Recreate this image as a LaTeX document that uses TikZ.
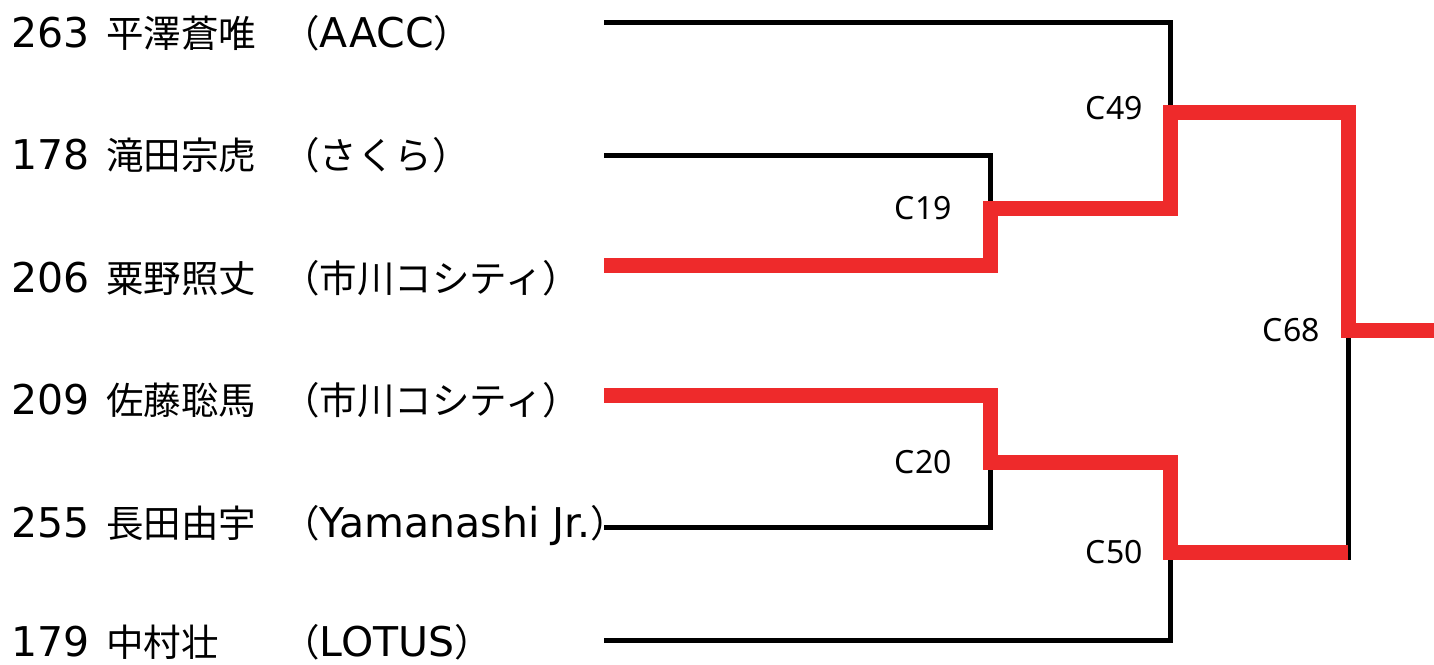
\documentclass[tikz,border=0pt]{standalone}
\usepackage{fontspec}
\setmainfont{Noto Sans CJK JP}
\newfontfamily\matchfont{Noto Sans}
\newfontfamily\latfont{DejaVu Sans}
\newcommand\lat[1]{{\latfont\fontsize{20.5}{24}\selectfont #1}}
\usepackage{tikz}
\usetikzlibrary{positioning}
\definecolor{winred}{RGB}{238,42,43}

\begin{document}
\begin{tikzpicture}[x=0.5pt,y=-0.5pt,
		entry/.style={anchor=base west,inner sep=0pt,font=\fontsize{18.75}{22}\selectfont},
		seed/.style={anchor=base west,inner sep=0pt,font=\latfont\fontsize{20.5}{24}\selectfont},
		loser/.style={line width=2.5pt,black},
		winner/.style={line width=7.5pt,winred},
		matchno/.style={inner sep=0pt,font=\matchfont\fontsize{16}{19}\selectfont}]
		\useasboundingbox (0,0) rectangle (1434,664);
		
		\node[seed] (s1) at (11,47) {263};
		\node[entry] (n1) at (106,47) {平澤蒼唯};
		\node[entry] (t1) at (282,47) {（\lat{AACC}）};
		\node[seed] (s2) at (11,169.6) {178};
		\node[entry] (n2) at (106,169.6) {滝田宗虎};
		\node[entry] (t2) at (282,169.6) {（さくら）};
		\node[seed] (s3) at (11,292.2) {206};
		\node[entry] (n3) at (106,292.2) {粟野照丈};
		\node[entry] (t3) at (282,292.2) {（市川コシティ）};
		\node[seed] (s4) at (11,414.8) {209};
		\node[entry] (n4) at (106,414.8) {佐藤聡馬};
		\node[entry] (t4) at (282,414.8) {（市川コシティ）};
		\node[seed] (s5) at (11,537.4) {255};
		\node[entry] (n5) at (106,537.4) {長田由宇};
		\node[entry] (t5) at (282,537.4) {（\lat{Yamanashi Jr.}）};
		\node[seed] (s6) at (11,656) {179};
		\node[entry] (n6) at (106,656) {中村壮};
		\node[entry] (t6) at (282,656) {（\lat{LOTUS}）};
		
		\coordinate (e1) at (604,22);
		\coordinate (e2) at (604,155);
		\coordinate (e3) at (604,265);
		\coordinate (e4) at (604,395);
		\coordinate (e5) at (604,527);
		\coordinate (e6) at (604,640);
		\coordinate (j19) at (990,208);
		\coordinate (j20) at (990,462);
		\coordinate (j49) at (1170,112);
		\coordinate (j50) at (1170,552);
		\coordinate (j68) at (1348,330);
		\coordinate (r50) at (1348,552);
		\coordinate (fin) at (1434,330);
		
		\draw[loser] (e1) -| (j49);
		\draw[loser] (e2) -| (j19);
		\draw[loser] (e5) -| (j20);
		\draw[loser] (e6) -| (j50);
		\draw[loser] (j68) -- ([yshift=-4pt]r50);
		
		\draw[winner] (e3) -| (j19) -| (j49) -| (j68) -- (fin);
		\draw[winner] (e4) -| (j20) -| (j50) -- (r50);
		
		\node[matchno,left=19pt of j19,anchor=east] (m19) {C19};
		\node[matchno,left=19pt of j20,anchor=east] (m20) {C20};
		\node[matchno,above left=2pt and 13.5pt of j49,anchor=east] (m49) {C49};
		\node[matchno,left=13.5pt of j50,anchor=east] (m50) {C50};
		\node[matchno,left=14pt of j68,anchor=east] (m68) {C68};
	\end{tikzpicture}
\end{document}
